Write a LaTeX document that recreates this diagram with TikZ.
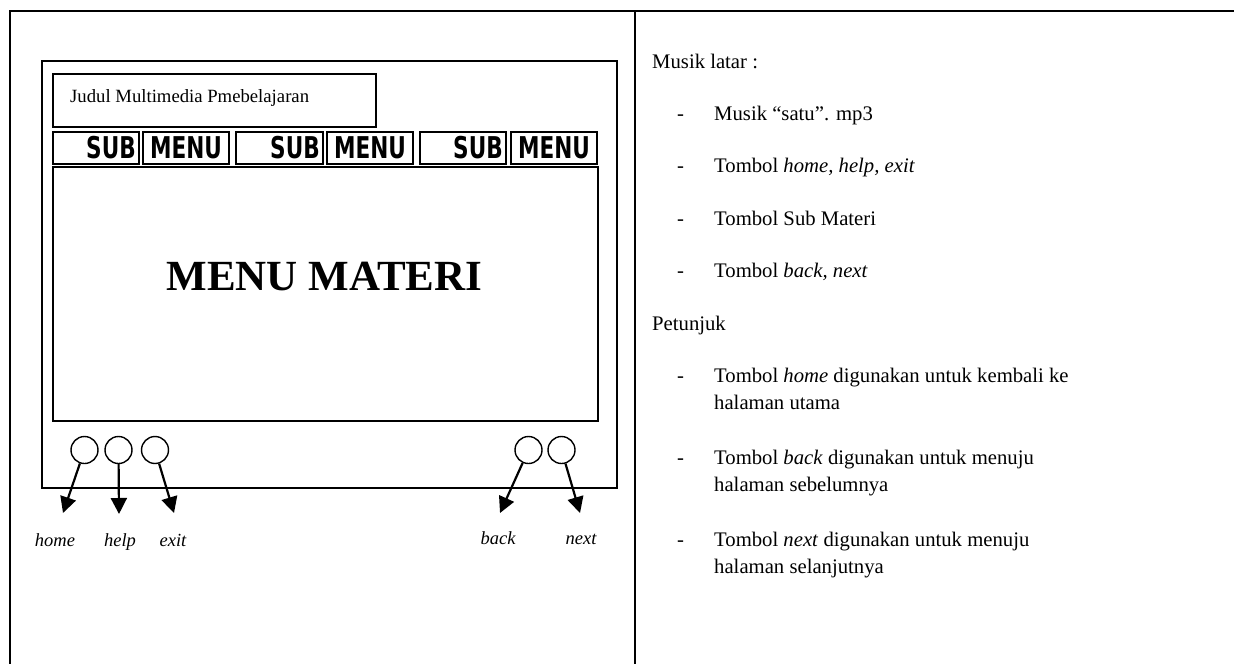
\documentclass[tikz,border=0pt]{standalone}
\usepackage{fontspec}
\setmainfont{Liberation Serif}
\newfontfamily\heavyfont[FakeStretch=0.72]{DejaVu Sans}
\usetikzlibrary{arrows.meta}
\begin{document}
\begin{tikzpicture}[x=1pt,y=-1pt,
  frame/.style={line width=1.5pt},
  panel/.style={draw,line width=1.8pt,anchor=north west,inner sep=0pt},
  btnbox/.style={draw,line width=2pt,anchor=north west,inner sep=0pt,minimum height=32pt},
  btntext/.style={font=\heavyfont\bfseries\fontsize{30}{32}\selectfont,inner sep=0pt},
  knob/.style={circle,draw,line width=1.4pt,minimum size=27pt,inner sep=0pt},
  ptr/.style={line width=2.2pt,-{Triangle[length=16pt,width=16pt]}},
  lbl/.style={font=\itshape\fontsize{18.5}{22}\selectfont,inner sep=0pt,anchor=base},
  rtext/.style={font=\fontsize{20.7}{25}\selectfont,anchor=base west,inner sep=0pt},
]
\useasboundingbox (0,0) rectangle (1234,664);
% outer frame
\draw[frame] (1234,11) -- (10,11) -- (10,664);
\draw[frame] (635,11) -- (635,664);
% screen
\node[panel,minimum width=575pt,minimum height=427pt] (screen) at (41,60) {};
\node[panel,minimum width=323pt,minimum height=53pt] (title) at (52,73) {};
\node[anchor=base west,inner sep=0pt,font=\fontsize{18.7}{22}\selectfont] (titletxt) at (70,102) {Judul Multimedia Pmebelajaran};
% buttons
\node[btnbox,minimum width=86pt] (s1) at (52,131) {};
\node[btnbox,minimum width=86pt] (m1) at (142,131) {};
\node[btnbox,minimum width=87pt] (s2) at (235,131) {};
\node[btnbox,minimum width=86pt] (m2) at (326,131) {};
\node[btnbox,minimum width=86pt] (s3) at (419,131) {};
\node[btnbox,minimum width=86pt] (m3) at (510,131) {};
\node[btntext,anchor=east] (s1t) at ([xshift=-4pt]s1.east) {SUB};
\node[btntext,anchor=east] (s2t) at ([xshift=-4pt]s2.east) {SUB};
\node[btntext,anchor=east] (s3t) at ([xshift=-4pt]s3.east) {SUB};
\node[btntext] (m1t) at (m1.center) {MENU};
\node[btntext] (m2t) at (m2.center) {MENU};
\node[btntext] (m3t) at (m3.center) {MENU};
% content
\node[panel,minimum width=545pt,minimum height=254pt] (content) at (52,166) {};
\node[font=\bfseries\fontsize{43}{48}\selectfont,inner sep=0pt] (menumateri) at (324.5,277) {MENU MATERI};
% knobs
\node[knob] (khome) at (84.5,450) {};
\node[knob] (khelp) at (118.5,450) {};
\node[knob] (kexit) at (155,450) {};
\node[knob] (kback) at (528.5,450) {};
\node[knob] (knext) at (561.5,450) {};
\coordinate (thome) at (63,513);
\coordinate (thelp) at (119,514);
\coordinate (texit) at (174,513);
\coordinate (tback) at (500,513);
\coordinate (tnext) at (580,513);
\draw[ptr] (khome) -- (thome);
\draw[ptr] (khelp) -- (thelp);
\draw[ptr] (kexit) -- (texit);
\draw[ptr] (kback) -- (tback);
\draw[ptr] (knext) -- (tnext);
\node[lbl] (lhome) at (55,546) {home};
\node[lbl] (lhelp) at (120,546) {help};
\node[lbl] (lexit) at (173,546) {exit};
\node[lbl] (lback) at (498,544) {back};
\node[lbl] (lnext) at (581,544) {next};
% right column
\node[rtext] (h1) at (652,68) {Musik latar :};
\node[rtext] (d1) at (677,120) {-};
\node[rtext] (i1) at (714,120) {Musik “satu”. mp3};
\node[rtext] (d2) at (677,172) {-};
\node[rtext] (i2) at (714,172) {Tombol \textit{home, help, exit}};
\node[rtext] (d3) at (677,225) {-};
\node[rtext] (i3) at (714,225) {Tombol Sub Materi};
\node[rtext] (d4) at (677,277) {-};
\node[rtext] (i4) at (714,277) {Tombol \textit{back, next}};
\node[rtext] (h2) at (652,330) {Petunjuk};
\node[rtext] (d5) at (677,382) {-};
\node[rtext] (i5) at (714,382) {Tombol \textit{home} digunakan untuk kembali ke};
\node[rtext] (i5b) at (714,409) {halaman utama};
\node[rtext] (d6) at (677,464) {-};
\node[rtext] (i6) at (714,464) {Tombol \textit{back} digunakan untuk menuju};
\node[rtext] (i6b) at (714,491) {halaman sebelumnya};
\node[rtext] (d7) at (677,546) {-};
\node[rtext] (i7) at (714,546) {Tombol \textit{next} digunakan untuk menuju};
\node[rtext] (i7b) at (714,573) {halaman selanjutnya};
\end{tikzpicture}
\end{document}
